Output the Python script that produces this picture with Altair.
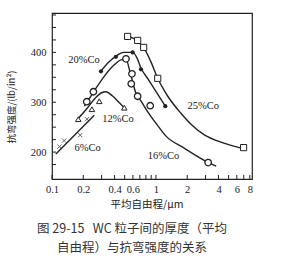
import altair as alt
import pandas as pd

# ---------------- data ----------------
# measured points
co6_x = [0.118, 0.131, 0.187, 0.217]
co6_y = [211, 223, 234, 266]
co12_x = [0.179, 0.242, 0.285, 0.496]
co12_y = [266, 286, 302, 289]
co16_x = [0.216, 0.25, 0.515, 0.588, 0.579, 0.667, 0.881, 3.18]
co16_y = [301, 321, 387, 357, 337, 312, 293, 179]
co20_x = [0.296, 0.412, 0.597, 0.718, 1.23]
co20_y = [362, 391, 400, 366, 292]
co25_x = [0.534, 0.667, 0.762, 1.04, 6.97]
co25_y = [432, 424, 410, 348, 209]

# hand-drawn curves
c6_x = [0.109, 0.255]
c6_y = [196, 274]
c12_x = [0.178, 0.22, 0.26, 0.30, 0.33, 0.38, 0.44, 0.50]
c12_y = [267, 289, 308, 319, 321, 313, 300, 288]
c16_x = [0.205, 0.25, 0.318, 0.397, 0.461, 0.515, 0.566, 0.642, 0.72, 0.85, 1.0, 1.25, 1.87, 3.2, 3.8]
c16_y = [292, 320, 352, 375, 385, 386, 359, 318, 302, 278, 258, 232, 208, 179, 172]
c20_x = [0.295, 0.35, 0.41, 0.49, 0.6, 0.66, 0.72, 0.85, 1.0, 1.23]
c20_y = [362, 380, 392, 400, 400, 388, 368, 345, 322, 292]
c25_x = [0.53, 0.67, 0.77, 0.9, 1.04, 1.3, 1.74, 2.2, 2.9, 4.5, 6.6]
c25_y = [433, 422, 408, 380, 348, 312, 278, 255, 235, 218, 208]

# curve labels
lab_text = ["20%Co", "12%Co", "6%Co", "25%Co", "16%Co"]
lab_x = [0.203, 0.431, 0.22, 2.86, 1.18]
lab_y = [385, 267, 208, 292, 193]

# axis ticks / labels
x_labels = [0.1, 0.2, 0.4, 0.6, 1, 2, 4, 6, 8]
x_ticks = [0.1, 0.2, 0.3, 0.4, 0.5, 0.6, 0.7, 0.8, 0.9, 1, 2, 3, 4, 5, 6, 7, 8]
y_labels = [200, 300, 400]
y_ticks = [175, 200, 225, 250, 275, 300, 325, 350, 375, 400, 425, 450, 475]

x_title = "平均自由程/μm"
y_title = "抗弯强度/(lb/in²)"
caption = ["图 29-15\u00a0\u00a0\u00a0WC 粒子间的厚度（平均", "自由程）与抗弯强度的关系"]

# ---------------- chart ----------------
INK = "#222222"
SERIF = "Liberation Serif"
CJK = "Noto Sans CJK SC"
W, H = 200, 166

xscale = alt.Scale(type="log", domain=[0.1, 8.4], nice=False)
yscale = alt.Scale(domain=[146, 479], nice=False, zero=False)

xaxis = alt.Axis(values=x_labels, format="~g", ticks=False, domain=False, grid=False,
                 labelFont=SERIF, labelFontSize=10.5, labelColor=INK, labelPadding=5,
                 labelFlush=False, title=None)
yaxis = alt.Axis(values=y_labels, ticks=False, domain=False, grid=False,
                 labelFont=SERIF, labelFontSize=10.5, labelColor=INK, labelPadding=6,
                 title=None)


def X():
    return alt.X("x:Q", scale=xscale, axis=xaxis)


def Y():
    return alt.Y("y:Q", scale=yscale, axis=yaxis)


def pts(xs, ys):
    return pd.DataFrame({"x": xs, "y": ys})


layers = []

# inward ticks
layers.append(alt.Chart(pd.DataFrame({"x": x_ticks})).mark_rule(color=INK, strokeWidth=1).encode(
    x=X(), y=alt.value(H), y2=alt.value(H - 4)))
layers.append(alt.Chart(pd.DataFrame({"y": y_ticks})).mark_rule(color=INK, strokeWidth=1).encode(
    y=Y(), x=alt.value(0), x2=alt.value(4)))

# curves
for cx, cy in [(c6_x, c6_y), (c12_x, c12_y), (c16_x, c16_y), (c20_x, c20_y), (c25_x, c25_y)]:
    layers.append(alt.Chart(pts(cx, cy)).mark_line(
        color=INK, strokeWidth=1.4, interpolate="monotone").encode(x=X(), y=Y()))

# markers
cross_path = "M-1,-1L1,1M-1,1L1,-1"
layers.append(alt.Chart(pts(co6_x, co6_y)).mark_point(
    shape=cross_path, size=18, filled=False, color=INK, strokeWidth=1).encode(x=X(), y=Y()))
layers.append(alt.Chart(pts(co12_x, co12_y)).mark_point(
    shape="triangle-up", size=30, filled=False, color=INK, strokeWidth=1, fill="white",
    fillOpacity=1).encode(x=X(), y=Y()))
layers.append(alt.Chart(pts(co16_x, co16_y)).mark_point(
    shape="circle", size=42, filled=False, color=INK, strokeWidth=1.3, fill="white",
    fillOpacity=1).encode(x=X(), y=Y()))
layers.append(alt.Chart(pts(co20_x, co20_y)).mark_point(
    shape="circle", size=18, filled=True, color=INK, opacity=1).encode(x=X(), y=Y()))
layers.append(alt.Chart(pts(co25_x, co25_y)).mark_point(
    shape="square", size=38, filled=False, color=INK, strokeWidth=1, fill="white",
    fillOpacity=1).encode(x=X(), y=Y()))

# curve labels
layers.append(alt.Chart(pd.DataFrame({"x": lab_x, "y": lab_y, "t": lab_text})).mark_text(
    font=SERIF, fontSize=10.5, color=INK, align="center", baseline="middle").encode(
    x=X(), y=Y(), text="t:N"))

# axis titles
layers.append(alt.Chart(pd.DataFrame({"t": [x_title]})).mark_text(
    font=CJK, fontSize=10.5, color=INK, align="center", baseline="middle").encode(
    x=alt.value(95), y=alt.value(192), text="t:N"))
layers.append(alt.Chart(pd.DataFrame({"t": [y_title]})).mark_text(
    font=CJK, fontSize=9.5, color=INK, align="center", baseline="middle", angle=270).encode(
    x=alt.value(-40), y=alt.value(94), text="t:N"))

# caption below the chart
for i, line in enumerate(caption):
    layers.append(alt.Chart(pd.DataFrame({"t": [line]})).mark_text(
        font=CJK, fontSize=12.5, color="#333333", align="center", baseline="middle").encode(
        x=alt.value(80), y=alt.value(216 + 19 * i), text="t:N"))

chart = alt.layer(*layers).properties(
    width=W, height=H, autosize="none",
    padding={"left": 52, "top": 13, "right": 30, "bottom": 82},
    background="white",
).configure_view(stroke=INK, strokeWidth=1.2)

chart.save("out.html", embed_options={"renderer": "svg", "actions": False})
